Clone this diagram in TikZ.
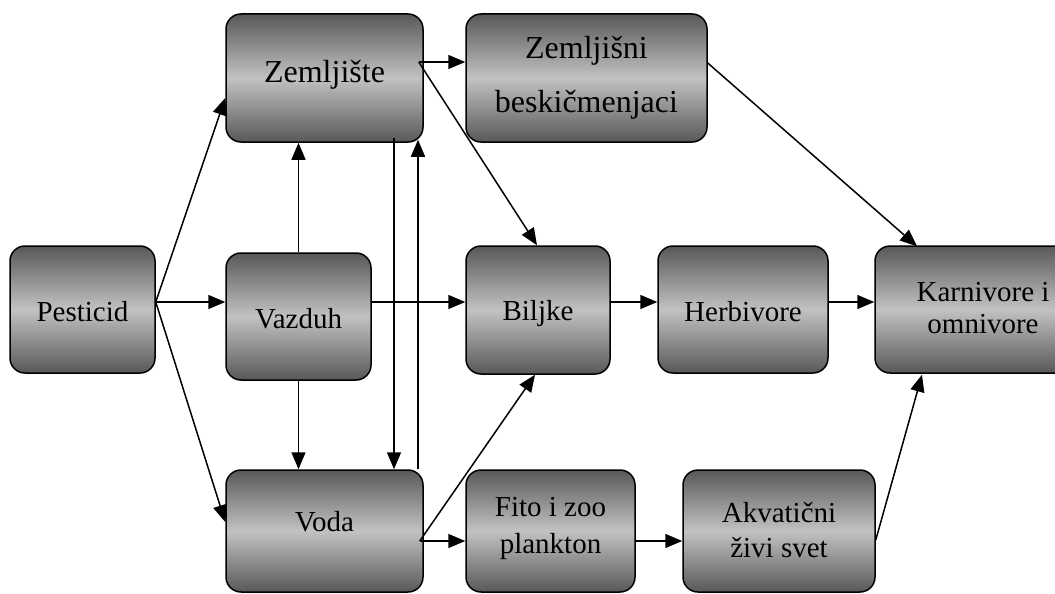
\documentclass[tikz,border=0pt]{standalone}
\usepackage{fontspec}
\setmainfont{Liberation Serif}
\usetikzlibrary{arrows.meta,calc}
\definecolor{boxdark}{RGB}{88,88,88}
\definecolor{boxlight}{RGB}{194,194,194}
\begin{document}
\begin{tikzpicture}[x=1pt,y=-1pt,
  box/.style={draw=black, line width=1.5pt, rounded corners=15pt,
    top color=boxdark, bottom color=boxdark, middle color=boxlight,
    font=\fontsize{29}{33}\selectfont, align=center, inner sep=0pt,
    text height=23pt, text depth=0pt},
  arr/.style={line width=1.5pt, -{Triangle[length=17pt,width=14pt]}}]
\useasboundingbox (0,0) rectangle (1055,594);
\clip (0,0) rectangle (1055,594);
% boxes
\node[box, minimum width=145pt, minimum height=127pt] (pest) at (82.5,309.5) {Pesticid};
\node[box, minimum width=197pt, minimum height=128pt, font=\fontsize{32}{36}\selectfont, text height=22pt, text depth=14pt] (zem) at (324.5,78) {Zemljište};
\node[box, minimum width=241pt, minimum height=128pt, font=\fontsize{32}{54}\selectfont, text height=68pt, text depth=0pt] (zbes) at (586.5,78) {Zemljišni\\beskičmenjaci};
\node[box, minimum width=145pt, minimum height=127pt] (vaz) at (298.5,316.5) {Vazduh};
\node[box, minimum width=144pt, minimum height=128pt, text height=21pt] (bilj) at (538,310) {Biljke};
\node[box, minimum width=170pt, minimum height=127pt] (herb) at (743,309.5) {Herbivore};
\node[box, minimum width=216pt, minimum height=127pt, font=\fontsize{29}{32}\selectfont, text height=47pt, text depth=0pt] (karn) at (983,309.5) {Karnivore i\\omnivore};
\node[box, minimum width=197pt, minimum height=122pt, text height=20pt, text depth=20pt] (voda) at (324.5,531) {Voda};
\node[box, minimum width=169pt, minimum height=122pt, font=\fontsize{29}{37}\selectfont, text height=44pt, text depth=0pt] (fito) at (550.5,531) {Fito i zoo\\plankton};
\node[box, minimum width=192pt, minimum height=122pt, font=\fontsize{29}{35}\selectfont, text height=52pt, text depth=0pt] (akva) at (779,531) {Akvatični\\živi svet};
% junction points
\coordinate (p0) at ($(pest.east)+(0,-7.5)$);
\coordinate (z0) at ($(zem.east)+(-5,-16)$);
\coordinate (v0) at ($(voda.east)+(-4,10)$);
\coordinate (zl) at ($(zem.south)+(69.5,-5)$);
\coordinate (zr) at ($(zem.south)+(93.5,-3)$);
% connectors
\draw[arr] (p0) -- ($(zem.west)+(0,20)$);
\draw[arr] (p0) -- ($(vaz.west)+(0,-14.5)$);
\draw[arr] (p0) -- ($(voda.west)+(0,-9)$);
\draw[arr] (vaz.north) -- (vaz.north |- zem.south);
\draw[arr] (vaz.south) -- (vaz.south |- voda.north);
\draw[arr] ($(vaz.east)+(0,-14.5)$) -- ($(bilj.west)+(0,-8)$);
\draw[arr] (z0) -- ($(zbes.west)+(0,-16)$);
\draw[arr] (z0) -- ($(bilj.north)+(-1,0)$);
\draw[arr] (zl) -- (zl |- voda.north);
\draw[arr] (zr |- voda.north) -- (zr);
\draw[arr] ($(zbes.east)+(0,-15)$) -- ($(karn.north)+(-66,1)$);
\draw[arr] ($(bilj.east)+(0,-8)$) -- ($(herb.west)+(0,-7.5)$);
\draw[arr] ($(herb.east)+(0,-7.5)$) -- ($(karn.west)+(0,-7.5)$);
\draw[arr] (v0) -- ($(bilj.south)+(-3,0)$);
\draw[arr] (v0) -- ($(fito.west)+(0,10)$);
\draw[arr] ($(fito.east)+(0,10)$) -- ($(akva.west)+(0,10)$);
\draw[arr] ($(akva.east)+(0,9)$) -- ($(karn.south)+(-61,1)$);
\end{tikzpicture}
\end{document}
